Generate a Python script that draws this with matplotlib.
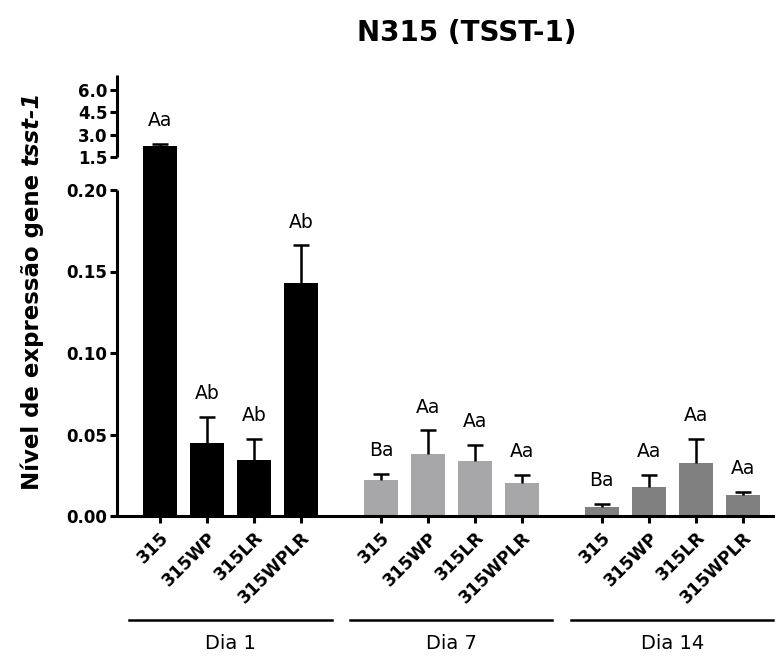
import numpy as np
import matplotlib
matplotlib.use("Agg")
import matplotlib.pyplot as plt
from matplotlib.ticker import NullLocator

plt.rcParams['font.family'] = ['DejaVu Sans']

# dados
dias = ['Dia 1', 'Dia 7', 'Dia 14']
amostras = ['315', '315WP', '315LR', '315WPLR']
media = [
    [2.24, 0.0449, 0.0346, 0.143],    # Dia 1
    [0.0222, 0.0383, 0.0338, 0.0200],  # Dia 7
    [0.0058, 0.0177, 0.0325, 0.0130],  # Dia 14
]
erro = [
    [0.11, 0.0160, 0.0127, 0.023],
    [0.0035, 0.0142, 0.0098, 0.0051],
    [0.0014, 0.0076, 0.0150, 0.0016],
]
letras = [
    ['Aa', 'Ab', 'Ab', 'Ab'],
    ['Ba', 'Aa', 'Aa', 'Aa'],
    ['Ba', 'Aa', 'Aa', 'Aa'],
]
cores = ['#000000', '#a7a7a9', '#808080']

# eixo y quebrado: 0-0.2 embaixo, 1.5-7 em cima
Y_REF = [-10, 0.0, 0.2, 1.5, 7.0, 100.0]
P_REF = [-16300, 0, 326, 359, 441, 441 + 93 * 14.9]


def fwd(y):
    return np.interp(y, Y_REF, P_REF)


def inv(p):
    return np.interp(p, P_REF, Y_REF)


fig = plt.figure(figsize=(7.75, 6.57), dpi=100)
ax = fig.add_axes([117 / 775, 1 - 516 / 657, 658 / 775, 441 / 657])
ax.set_yscale('function', functions=(fwd, inv))

passo = 4.7
largura = 0.72
xs_all, labs_all = [], []
for g, dia in enumerate(dias):
    x = g * passo + np.arange(len(amostras))
    m = np.array(media[g])
    e = np.array(erro[g])
    ax.bar(x, m, width=largura, color=cores[g], edgecolor='none', zorder=2)
    # barra de erro so para cima (sem traco na base)
    ax.vlines(x, m, m + e, color='black', lw=1.8, zorder=3)
    ax.plot(x, m + e, ls='none', marker='_', ms=11, mew=1.8, color='black', zorder=3)
    for xi, mi, ei, lt in zip(x, m, e, letras[g]):
        ax.annotate(lt, xy=(xi, mi + ei), xytext=(0, 10), textcoords='offset points',
                    ha='center', va='bottom', fontsize=13.5)
    xs_all.extend(x)
    labs_all.extend(amostras)
    # linha e nome do grupo
    c = x.mean()
    ax.plot([c - 2.15, c + 2.15], [-0.236, -0.236], color='black', lw=1.8,
            transform=ax.get_xaxis_transform(), clip_on=False)
    ax.text(c, -0.288, dia, ha='center', va='center', fontsize=14,
            transform=ax.get_xaxis_transform())

ax.set_xlim(-0.915, 13.085)
ax.set_ylim(0, 7.0)

ax.set_xticks(xs_all)
ax.set_xticklabels(labs_all, rotation=45, ha='right', rotation_mode='anchor',
                   fontsize=12.5, fontweight='bold')

yt = [0, 0.05, 0.10, 0.15, 0.20, 1.5, 3.0, 4.5, 6.0]
ax.set_yticks(yt)
ax.set_yticklabels(['0.00', '0.05', '0.10', '0.15', '0.20', '1.5', '3.0', '4.5', '6.0'],
                   fontsize=12, fontweight='bold')
ax.yaxis.set_minor_locator(NullLocator())

ax.tick_params(axis='both', direction='out', length=5, width=2.2, pad=2)
ax.tick_params(axis='x', pad=4)

for s in ['top', 'right', 'left']:
    ax.spines[s].set_visible(False)
ax.spines['bottom'].set_linewidth(2.2)
ax.spines['bottom'].set_zorder(4)

# eixo y em dois pedacos
ytr = ax.get_yaxis_transform()
ax.plot([0, 0], [0, 0.201], color='black', lw=2.2, transform=ytr, clip_on=False,
        solid_capstyle='butt')
ax.plot([0, 0], [1.5, 7.0], color='black', lw=2.2, transform=ytr, clip_on=False,
        solid_capstyle='butt')

# titulo e rotulo do eixo y
fig.text(467 / 775, 1 - 33 / 657, 'N315 (TSST-1)', ha='center', va='center',
         fontsize=20, fontweight='bold')
lab = fig.text(20 / 775, 1 - 490 / 657, 'Nível de expressão gene ', rotation=90,
               ha='left', va='bottom', fontsize=16.5, fontweight='bold')
ax.annotate('tsst-1', xy=(0, 1), xycoords=lab, rotation=90, ha='left', va='bottom',
            fontsize=16.5, fontweight='bold', fontstyle='italic')

fig.savefig('out.png', dpi=100)
